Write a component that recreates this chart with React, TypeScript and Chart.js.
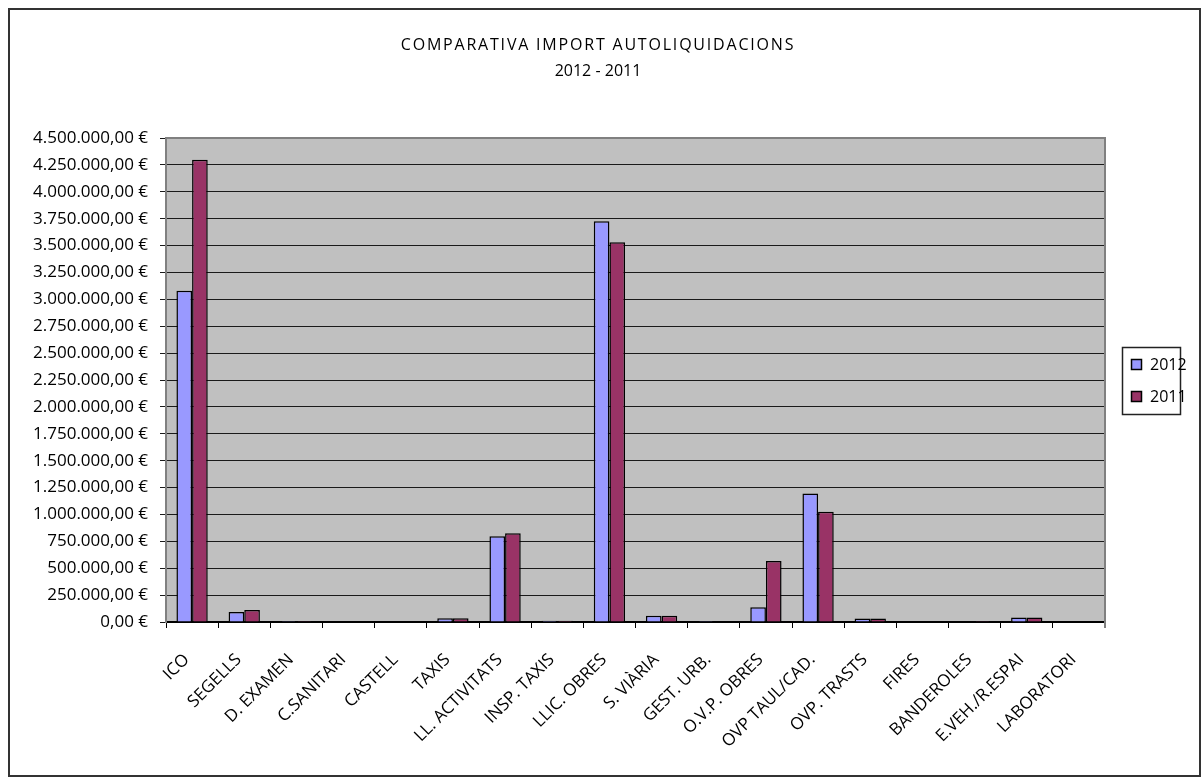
import React, { useEffect, useRef } from "react";
import { Chart, registerables } from "chart.js";

Chart.register(...registerables);

const categories = [
  "ICO",
  "SEGELLS",
  "D. EXAMEN",
  "C.SANITARI",
  "CASTELL",
  "TAXIS",
  "LL. ACTIVITATS",
  "INSP. TAXIS",
  "LLIC. OBRES",
  "S. VIÀRIA",
  "GEST. URB.",
  "O.V.P. OBRES",
  "OVP TAUL/CAD.",
  "OVP. TRASTS",
  "FIRES",
  "BANDEROLES",
  "E.VEH./R.ESPAI",
  "LABORATORI",
];

const values2012 = [
  3080000, 93000, 10000, 0, 0, 35000, 798000, 12000, 3725000, 58000, 10000,
  136000, 1195000, 33000, 0, 0, 43000, 0,
];
const values2011 = [
  4297000, 111000, 10000, 0, 0, 35000, 826000, 12000, 3530000, 58000, 0,
  566000, 1025000, 33000, 0, 10000, 43000, 0,
];

const seriesLabels = ["2012", "2011"];
const titleLines = ["COMPARATIVA IMPORT AUTOLIQUIDACIONS", "2012 - 2011"];

const yMax = 4500000;
const yStep = 250000;

const FONT = "'Open Sans', sans-serif";

function formatEuro(v: number): string {
  const intPart = Math.round(v).toString().replace(/\B(?=(\d{3})+(?!\d))/g, ".");
  return intPart + ",00 €";
}

const plotBg = {
  id: "plotBg",
  beforeDraw(chart: any) {
    const { ctx, chartArea } = chart;
    ctx.save();
    ctx.fillStyle = "#C0C0C0";
    ctx.fillRect(chartArea.left, chartArea.top, chartArea.right - chartArea.left, chartArea.bottom - chartArea.top);
    ctx.restore();
  },
  afterDraw(chart: any) {
    const { ctx, chartArea } = chart;
    ctx.save();
    ctx.strokeStyle = "#808080";
    ctx.lineWidth = 2;
    ctx.beginPath();
    ctx.moveTo(chartArea.left, chartArea.top);
    ctx.lineTo(chartArea.right, chartArea.top);
    ctx.lineTo(chartArea.right, chartArea.bottom + 6);
    ctx.stroke();
    ctx.restore();
  },
};

const rotatedXLabels = {
  id: "rotatedXLabels",
  afterDraw(chart: any) {
    const { ctx, chartArea } = chart;
    const xs = chart.scales.x;
    ctx.save();
    ctx.fillStyle = "#000";
    ctx.font = `17px ${FONT}`;
    ctx.textAlign = "right";
    ctx.textBaseline = "middle";
    const labels: string[] = chart.data.labels;
    labels.forEach((lab, i) => {
      const cx = xs.getPixelForTick(i);
      ctx.save();
      ctx.translate(cx - 5.5, chartArea.bottom + 35);
      ctx.rotate(-Math.PI / 4);
      ctx.fillText(lab, 0, 0);
      ctx.restore();
    });
    ctx.restore();
  },
};

const customTitle = {
  id: "customTitle",
  afterDraw(chart: any) {
    const { ctx } = chart;
    const cx = 588;
    ctx.save();
    ctx.fillStyle = "#000";
    ctx.textAlign = "center";
    ctx.textBaseline = "middle";
    ctx.font = `16px ${FONT}`;
    (ctx as any).letterSpacing = "1.8px";
    ctx.fillText(titleLines[0], cx, 35);
    (ctx as any).letterSpacing = "0px";
    ctx.fillText(titleLines[1], cx, 61);
    ctx.restore();
  },
};

const customLegend = {
  id: "customLegend",
  afterDraw(chart: any) {
    const { ctx } = chart;
    const x0 = 1112;
    const y0 = 337;
    const w = 58;
    const h = 67;
    ctx.save();
    ctx.fillStyle = "#FFFFFF";
    ctx.fillRect(x0, y0, w, h);
    ctx.strokeStyle = "#222";
    ctx.lineWidth = 1.5;
    ctx.strokeRect(x0 + 0.5, y0 + 0.5, w, h);
    ctx.font = `16px ${FONT}`;
    ctx.textBaseline = "middle";
    ctx.textAlign = "left";
    chart.data.datasets.forEach((ds: any, i: number) => {
      const cy = 354.5 + i * 32;
      ctx.fillStyle = ds.backgroundColor;
      ctx.fillRect(1121, cy - 5.5, 11, 11);
      ctx.strokeStyle = "#000";
      ctx.lineWidth = 1.5;
      ctx.strokeRect(1121.5, cy - 5, 10, 10);
      ctx.fillStyle = "#000";
      ctx.fillText(ds.label, 1140, cy + 1);
    });
    ctx.restore();
  },
};

export default function App() {
  const ref = useRef<HTMLCanvasElement | null>(null);

  useEffect(() => {
    if (!ref.current) return;
    const chart = new Chart(ref.current, {
      type: "bar",
      data: {
        labels: categories,
        datasets: [
          {
            label: seriesLabels[0],
            data: values2012,
            backgroundColor: "#9999FF",
            borderColor: "#000000",
            borderWidth: 1.5,
            categoryPercentage: 0.6,
            barPercentage: 1,
          },
          {
            label: seriesLabels[1],
            data: values2011,
            backgroundColor: "#993366",
            borderColor: "#000000",
            borderWidth: 1.5,
            categoryPercentage: 0.6,
            barPercentage: 1,
          },
        ],
      },
      options: {
        animation: false,
        responsive: false,
        maintainAspectRatio: false,
        layout: { padding: { left: 0, right: 94, top: 128, bottom: 0 } },
        plugins: {
          legend: { display: false },
          tooltip: { enabled: false },
          title: { display: false },
        },
        scales: {
          x: {
            grid: {
              offset: true,
              drawOnChartArea: false,
              drawTicks: true,
              tickLength: 6,
              color: "#000",
            },
            border: { color: "#000", width: 2 },
            ticks: {
              display: false,
              autoSkip: false,
            },
            afterFit(scale: any) {
              scale.height = 153;
            },
          },
          y: {
            min: 0,
            max: yMax,
            grid: {
              color: "#1a1a1a",
              lineWidth: 1,
              tickLength: 6,
            },
            border: { color: "#808080", width: 2 },
            ticks: {
              stepSize: yStep,
              color: "#000",
              padding: 12,
              font: { family: FONT, size: 17 },
              callback: (v: any) => formatEuro(Number(v)),
            },
            afterFit(scale: any) {
              scale.width = 156;
            },
          },
        },
      },
      plugins: [plotBg, rotatedXLabels, customTitle, customLegend],
    });
    return () => chart.destroy();
  }, []);

  return (
    <div
      style={{
        position: "absolute",
        left: 8,
        top: 8,
        width: 1193,
        height: 769,
        boxSizing: "border-box",
        border: "2px solid #333",
        background: "#fff",
      }}
    >
      <canvas ref={ref} width={1189} height={765} style={{ display: "block", width: 1189, height: 765 }} />
    </div>
  );
}
